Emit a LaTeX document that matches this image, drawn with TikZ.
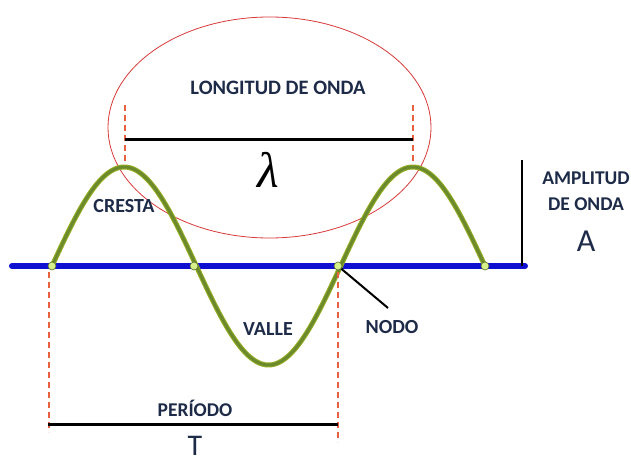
\documentclass[tikz,border=0pt]{standalone}
\usepackage{fontspec}
\setmainfont{Carlito}
\newfontfamily\grk{Liberation Serif}
\usetikzlibrary{shapes.geometric}
\definecolor{navy}{HTML}{1E2B48}
\definecolor{wavegreen}{HTML}{6B8A2E}
\definecolor{axisblue}{HTML}{1010D0}
\definecolor{dashred}{HTML}{E8603F}
\definecolor{ellred}{HTML}{D83A3A}
\definecolor{dotfill}{HTML}{D8F08C}
\tikzset{
  lbl/.style={font=\bfseries\fontsize{20}{20}\selectfont, text=navy, inner sep=0pt},
  big/.style={inner sep=0pt, text=navy, font=\fontsize{32}{32}\selectfont},
  guide/.style={dashred, line width=1.4pt, dash pattern=on 6pt off 4pt},
  measure/.style={black, line width=3pt},
  zero/.style={circle, draw=wavegreen!80!black, fill=dotfill, line width=0.6pt, minimum size=8pt, inner sep=0pt}
}
\begin{document}
\begin{tikzpicture}[x=1pt,y=-1pt]
\useasboundingbox[fill=white] (0,0) rectangle (631,462);
% ellipse
\node[ellipse, draw=ellred, line width=0.8pt, minimum width=323pt, minimum height=221pt] (ell) at (269.5,127.5) {};
% wavelength
\coordinate (lt1) at (125,105); \coordinate (lb1) at (125,168);
\coordinate (lt2) at (413,105); \coordinate (lb2) at (413,168);
\draw[guide] (lt1) -- (lb1);
\draw[guide] (lt2) -- (lb2);
\coordinate (la) at (125,140); \coordinate (lb) at (413,140);
\draw[measure] (la) -- (lb);
\node[lbl, font=\bfseries\fontsize{20.5}{20.5}\selectfont] (lon) at (278,88) {LONGITUD DE ONDA};
\node[inner sep=0pt, font=\grk\itshape\fontsize{50}{50}\selectfont] (lam) at (268,170) {λ};
% axis
\coordinate (ax0) at (12,266); \coordinate (ax1) at (525,266);
\draw[axisblue, line width=6pt, line cap=round] (ax0) -- (ax1);
% amplitude bar
\coordinate (amp0) at (522,160); \coordinate (amp1) at (522,266);
\draw[black, line width=2.5pt] (amp0) -- (amp1);
% wave
\draw[wavegreen!70!yellow, line width=5pt, line cap=round] plot[domain=52:485, samples=200, smooth] (\x, {266 - 99*sin((\x-52)/144.33*180)});
\draw[wavegreen, line width=3pt, line cap=round] plot[domain=52:485, samples=200, smooth] (\x, {266 - 99*sin((\x-52)/144.33*180)});
% period guides
\coordinate (p1t) at (49,272); \coordinate (p1b) at (49,432);
\coordinate (p2t) at (338,272); \coordinate (p2b) at (338,442);
\draw[guide] (p1t) -- (p1b);
\draw[guide] (p2t) -- (p2b);
% zero dots
\node[zero] (n1) at (52,266) {};
\node[zero] (n2) at (194,266) {};
\node[zero] (n3) at (338,266) {};
\node[zero] (n4) at (485,266) {};
% labels
\node[lbl] (cresta) at (124,206) {CRESTA};
\node[lbl] (valle) at (268,329) {VALLE};
\node[lbl] (nodo) at (392,327) {NODO};
\coordinate (nl) at (388,308);
\draw[black, line width=2pt] (n3) -- (nl);
\node[lbl, font=\bfseries\fontsize{19.5}{19.5}\selectfont] (ampl) at (586,178) {AMPLITUD};
\node[lbl, font=\bfseries\fontsize{19.5}{19.5}\selectfont] (deonda) at (586,204) {DE ONDA};
\node[big] (A) at (586,241) {A};
% period
\coordinate (pa) at (48,424); \coordinate (pb) at (338,424);
\draw[measure] (pa) -- (pb);
\node[lbl, font=\bfseries\fontsize{19.5}{19.5}\selectfont] (per) at (195,408) {PERÍODO};
\node[big, font=\fontsize{30}{30}\selectfont] (T) at (195,446) {T};
\end{tikzpicture}
\end{document}
